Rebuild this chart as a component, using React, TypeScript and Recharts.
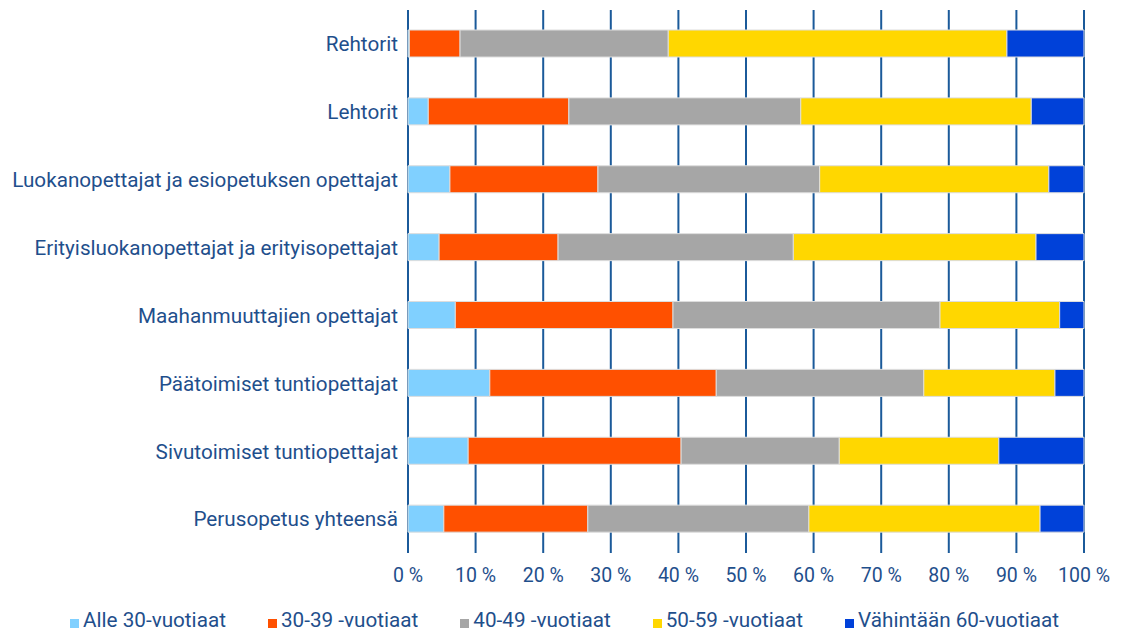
import React from "react";
import { BarChart, Bar, XAxis, YAxis, CartesianGrid, Legend } from "recharts";

const categories = [
  "Rehtorit",
  "Lehtorit",
  "Luokanopettajat ja esiopetuksen opettajat",
  "Erityisluokanopettajat ja erityisopettajat",
  "Maahanmuuttajien opettajat",
  "Päätoimiset tuntiopettajat",
  "Sivutoimiset tuntiopettajat",
  "Perusopetus yhteensä",
];
const alle30 = [0.2, 3.0, 6.2, 4.6, 7.0, 12.1, 8.9, 5.3];
const v30_39 = [7.5, 20.8, 21.9, 17.6, 32.2, 33.5, 31.5, 21.3];
const v40_49 = [30.8, 34.3, 32.8, 34.8, 39.5, 30.7, 23.4, 32.7];
const v50_59 = [50.1, 34.1, 33.9, 35.9, 17.7, 19.4, 23.6, 34.2];
const v60 = [11.4, 7.8, 5.2, 7.1, 3.6, 4.3, 12.6, 6.5];
const xTicks = [0, 10, 20, 30, 40, 50, 60, 70, 80, 90, 100];

const seriesNames = [
  "Alle 30-vuotiaat",
  "30-39 -vuotiaat",
  "40-49 -vuotiaat",
  "50-59 -vuotiaat",
  "Vähintään 60-vuotiaat",
];
const colors = ["#80d0ff", "#ff5000", "#a6a6a6", "#ffd700", "#0041d9"];

const data = categories.map((c, i) => ({
  name: c,
  s0: alle30[i],
  s1: v30_39[i],
  s2: v40_49[i],
  s3: v50_59[i],
  s4: v60[i],
}));

const TEXT = "#1f4f8c";
const FONT = "Roboto, sans-serif";

const renderLegend = () => {
  return (
    <div
      style={{
        display: "flex",
        justifyContent: "flex-start",
        paddingLeft: 70,
        paddingTop: 10,
        fontFamily: FONT,
        fontSize: 20.7,
        color: TEXT,
        lineHeight: "24px",
        whiteSpace: "nowrap",
        width: 1121,
        boxSizing: "border-box",
      }}
    >
      {seriesNames.map((n, i) => (
        <div
          key={n}
          style={{ display: "flex", alignItems: "center", marginRight: 42, flexShrink: 0 }}
        >
          <span
            style={{
              display: "inline-block",
              width: 9,
              height: 9,
              flexShrink: 0,
              background: colors[i],
              marginRight: 4,
              marginTop: 7,
            }}
          />
          <span>{n}</span>
        </div>
      ))}
    </div>
  );
};

export default function App() {
  return (
    <div style={{ position: "absolute", left: 0, top: 0, background: "#fff" }}>
      <BarChart
        width={1121}
        height={632}
        data={data}
        layout="vertical"
        margin={{ top: 10, right: 37, left: 0, bottom: 0 }}
        barSize={27}
      >
        <CartesianGrid horizontal={false} vertical={true} stroke="#1b5a9a" strokeWidth={2} />
        <XAxis
          type="number"
          domain={[0, 100]}
          ticks={xTicks}
          tickFormatter={(v: number) => `${v} %`}
          axisLine={false}
          tickLine={false}
          tickMargin={9}
          height={45}
          tick={{ fill: TEXT, fontSize: 19.5, fontFamily: FONT }}
          interval={0}
        />
        <YAxis
          type="category"
          dataKey="name"
          width={408}
          axisLine={false}
          tickLine={false}
          tickSize={0}
          tickMargin={10}
          tick={{ fill: TEXT, fontSize: 20.7, fontFamily: FONT }}
          interval={0}
        />
        <Legend
          verticalAlign="bottom"
          content={renderLegend}
          height={34}
          wrapperStyle={{ left: 0, width: 1121 }}
        />
        {seriesNames.map((n, i) => (
          <Bar
            key={n}
            dataKey={`s${i}`}
            name={n}
            stackId="a"
            fill={colors[i]}
            stroke="#dddddd"
            strokeWidth={1}
            isAnimationActive={false}
          />
        ))}
      </BarChart>
    </div>
  );
}
